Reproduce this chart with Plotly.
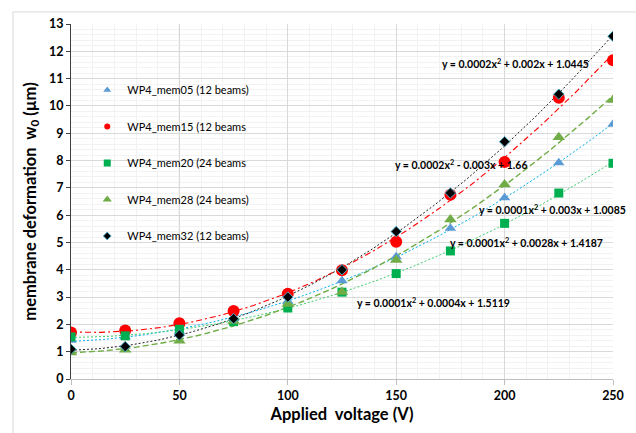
import numpy as np
import plotly.graph_objects as go

# ---------------- data ----------------
voltage = [0, 25, 50, 75, 100, 125, 150, 175, 200, 225, 250]
mem05 = [1.42, 1.55, 1.75, 2.22, 2.85, 3.60, 4.48, 5.52, 6.64, 7.92, 9.33]
mem15 = [1.70, 1.78, 2.04, 2.49, 3.12, 3.98, 5.03, 6.75, 7.95, 10.30, 11.67]
mem20 = [1.54, 1.58, 1.82, 2.10, 2.60, 3.18, 3.86, 4.69, 5.70, 6.81, 7.90]
mem28 = [0.97, 1.07, 1.40, 2.12, 2.75, 3.19, 4.36, 5.84, 7.12, 8.85, 10.22]
mem32 = [1.09, 1.19, 1.61, 2.21, 3.00, 4.00, 5.40, 6.81, 8.69, 10.43, 12.55]

series_names = ["WP4_mem05 (12 beams)", "WP4_mem15 (12 beams", "WP4_mem20 (24 beams",
                "WP4_mem28 (24 beams)", "WP4_mem32 (12 beams)"]
series_values = [mem05, mem15, mem20, mem28, mem32]

equations = ["y = 0.0001x<sup>2</sup> + 0.003x + 1.0085",
             "y = 0.0002x<sup>2</sup> - 0.003x + 1.66",
             "y = 0.0001x<sup>2</sup> + 0.0004x + 1.5119",
             "y = 0.0001x<sup>2</sup> + 0.0028x + 1.4187",
             "y = 0.0002x<sup>2</sup> + 0.002x + 1.0445"]

x_ticks = [0, 50, 100, 150, 200, 250]
y_ticks = list(range(0, 14))

# ---------------- styles ----------------
marker_styles = [
    dict(symbol="triangle-up", color="#5b9bd5", size=10),
    dict(symbol="circle", color="#ff0000", size=12),
    dict(symbol="square", color="#00b050", size=9),
    dict(symbol="triangle-up", color="#70ad47", size=11),
    dict(symbol="diamond", color="#000000", size=8, line=dict(color="#4bacc6", width=1)),
]
legend_sizes = [7, 6, 7, 8, 6]
trend_styles = [
    dict(color="#00b0f0", width=1, dash="2px,2px"),
    dict(color="#ff0000", width=1.1, dash="6px,3px,2px,3px"),
    dict(color="#3dcc6e", width=1, dash="2px,2px"),
    dict(color="#70ad47", width=1.4, dash="6px,3px"),
    dict(color="#202020", width=1, dash="2px,2px"),
]
eq_pos = [(222, 6.21), (180, 7.85), (167, 2.81), (210, 5.0), (205, 11.54)]

FONT = "Lato, 'Liberation Sans', Arial, sans-serif"

fig = go.Figure()

xfit = np.linspace(min(voltage), max(voltage), 200)
for vals, ts in zip(series_values, trend_styles):
    coef = np.polyfit(voltage, vals, 2)
    fig.add_trace(go.Scatter(x=xfit, y=np.polyval(coef, xfit), mode="lines",
                             line=ts, showlegend=False, hoverinfo="skip"))

for i, (name, vals, ms) in enumerate(zip(series_names, series_values, marker_styles)):
    fig.add_trace(go.Scatter(x=voltage, y=vals, mode="markers", name=name,
                             marker=ms, showlegend=False))

# legend-only entries (smaller symbols, like the reference legend)
for i, (name, ms, ls) in enumerate(zip(series_names, marker_styles, legend_sizes)):
    m = dict(ms)
    m["size"] = ls
    fig.add_trace(go.Scatter(x=[None], y=[None], mode="markers", name=name,
                             marker=m, legendgroup=f"g{i}", showlegend=True))

for txt, (ex, ey) in zip(equations, eq_pos):
    fig.add_annotation(x=ex, y=ey, text=txt, showarrow=False,
                       font=dict(family=FONT, size=10.5, color="#000000", weight="bold"))

# darker vertical line at 50 V
fig.add_shape(type="line", x0=50, x1=50, y0=0, y1=13, xref="x", yref="y",
              line=dict(color="#a6a6a6", width=1), layer="below")
# outer chart border (left & top)
fig.add_shape(type="line", xref="paper", yref="paper", x0=-0.107, x1=1.2, y0=1.034, y1=1.034,
              line=dict(color="#d9d9d9", width=1))
fig.add_shape(type="line", xref="paper", yref="paper", x0=-0.107, x1=-0.107, y0=1.034, y1=-0.2,
              line=dict(color="#d9d9d9", width=1))

fig.update_layout(
    width=636, height=433,
    margin=dict(l=71, r=22, t=24, b=51),
    paper_bgcolor="white", plot_bgcolor="white",
    font=dict(family=FONT, color="#000000"),
    showlegend=True,
    legend=dict(x=0.03, y=0.855, xanchor="left", yanchor="top",
                bgcolor="rgba(0,0,0,0)", font=dict(family=FONT, size=11, color="#000"),
                tracegroupgap=17.5, itemsizing="trace"),
    xaxis=dict(range=[0, 250], tickvals=x_ticks, showgrid=True, gridcolor="#d9d9d9",
               minor=dict(dtick=10, showgrid=True, gridcolor="#f2f2f2"),
               showline=True, linecolor="#bfbfbf", ticks="outside", ticklen=5,
               tickcolor="#bfbfbf", zeroline=False,
               tickfont=dict(family=FONT, size=12.5, color="#000", weight="bold"),
               title=dict(text="Applied  voltage (V)",
                          font=dict(family=FONT, size=16.5, color="#000", weight="bold"),
                          standoff=6)),
    yaxis=dict(range=[0, 13], tickvals=y_ticks, showgrid=True, gridcolor="#d9d9d9",
               minor=dict(dtick=0.2, showgrid=True, gridcolor="#f2f2f2"),
               showline=True, linecolor="#404040", ticks="outside", ticklen=4,
               tickcolor="#404040", zeroline=False,
               tickfont=dict(family=FONT, size=12.5, color="#000", weight="bold"),
               title=dict(text="membrane deformation  w<sub>0</sub> (µm)",
                          font=dict(family=FONT, size=16.5, color="#000", weight="bold"),
                          standoff=8)),
)

fig.write_html("out.html")
